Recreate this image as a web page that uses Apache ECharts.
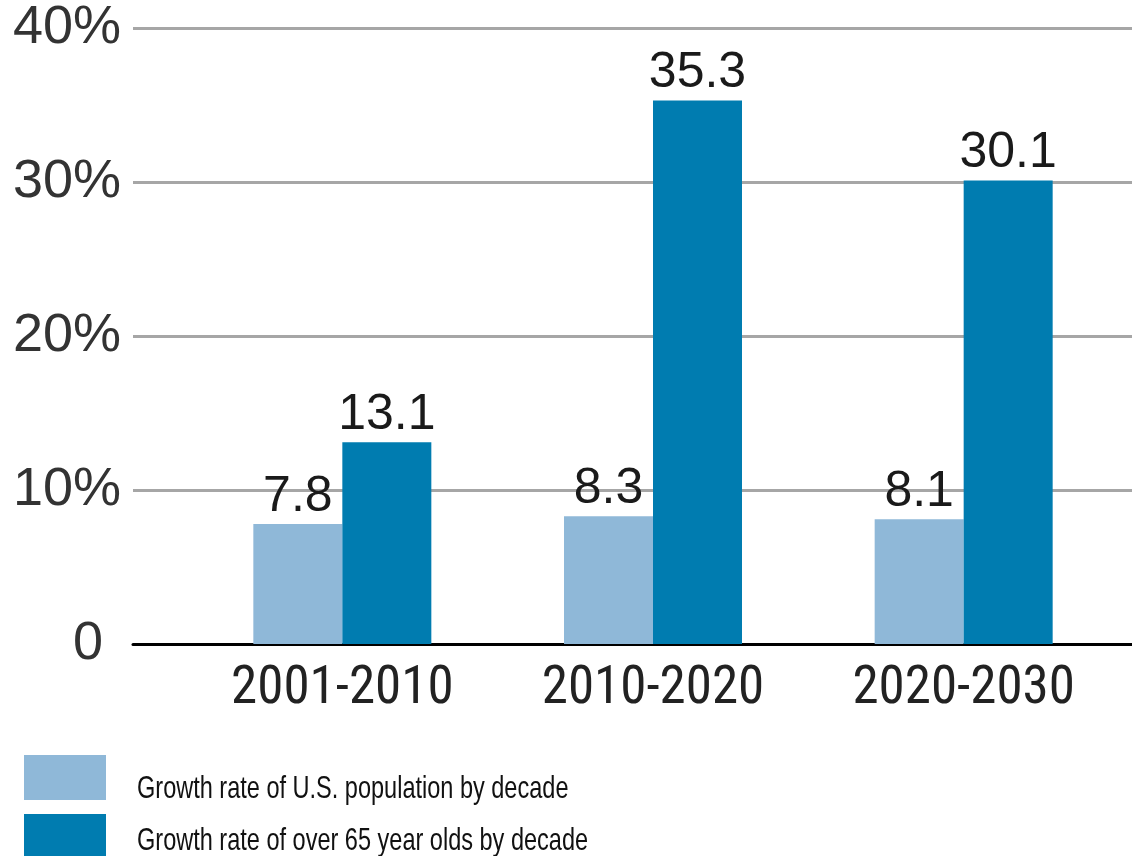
<!DOCTYPE html>
<html>
<head>
<meta charset="utf-8">
<script src="https://cdn.jsdelivr.net/npm/echarts@6/dist/echarts.min.js"></script>
<style>html,body{margin:0;padding:0;background:#fff}#c{width:1132px;height:856px}</style>
</head>
<body>
<div id="c"></div>
<script>
const categories = ['2001-2010', '2010-2020', '2020-2030'];
const usPopulation = [7.8, 8.3, 8.1];
const over65 = [13.1, 35.3, 30.1];
const seriesNames = ['Growth rate of U.S. population by decade', 'Growth rate of over 65 year olds by decade'];
const yTicks = [0, 10, 20, 30, 40];
const colors = ['#8fb8d8', '#007cb0'];

const chart = echarts.init(document.getElementById('c'), null, {renderer: 'canvas'});
const TOP = 28, BOTTOM = 212;
const legendTops = [750, 809];
const legendTextY = [789, 841];

chart.setOption({
  animation: false,
  backgroundColor: '#fff',
  grid: [
    {left: 133, right: 0, top: TOP, bottom: BOTTOM},
    {left: 187, right: 13, top: TOP, bottom: BOTTOM}
  ],
  xAxis: [
    {gridIndex: 0, type: 'value', min: 0, max: 1, show: true,
     axisLine: {show: true, onZero: false, lineStyle: {color: '#000', width: 3}},
     axisTick: {show: false}, axisLabel: {show: false}, splitLine: {show: false}},
    {gridIndex: 1, type: 'category', data: categories,
     axisLine: {show: false}, axisTick: {show: false},
     axisLabel: {interval: 0, margin: 19, fontFamily: "'Roboto Condensed', 'Liberation Sans'", fontSize: 53, color: '#222'}}
  ],
  yAxis: [
    {gridIndex: 0, type: 'value', min: yTicks[0], max: yTicks[yTicks.length - 1], interval: 10,
     axisLine: {show: false}, axisTick: {show: false},
     axisLabel: {margin: 12, fontFamily: 'Liberation Sans', fontSize: 54, color: '#333',
       formatter: v => v === 0 ? '{z|0}' : v + '%',
       rich: {z: {fontFamily: 'Liberation Sans', fontSize: 54, color: '#333', padding: [0, 18, 0, 0]}}},
     splitLine: {show: true, lineStyle: {color: '#a6a6a6', width: 3}}},
    {gridIndex: 1, type: 'value', min: 0, max: 40, show: false, splitLine: {show: false}}
  ],
  legend: seriesNames.map((n, i) => ({
    left: 19, top: legendTops[i], itemWidth: 82, itemHeight: 45, icon: 'rect',
    formatter: () => '', data: [n], selectedMode: false
  })),
  graphic: seriesNames.map((n, i) => ({
    type: 'text', x: 137, y: legendTextY[i], scaleX: 0.735,
    style: {text: n, fontFamily: 'Liberation Sans', fontSize: 32, fill: '#111', verticalAlign: 'middle', align: 'left'}
  })),
  series: [
    {name: seriesNames[0], type: 'bar', xAxisIndex: 1, yAxisIndex: 1, data: usPopulation,
     barWidth: 89, barGap: '0%', itemStyle: {color: colors[0]},
     label: {show: true, position: 'top', distance: 2, fontFamily: 'Liberation Sans', fontSize: 50, color: '#1a1a1a'}},
    {name: seriesNames[1], type: 'bar', xAxisIndex: 1, yAxisIndex: 1, data: over65,
     barWidth: 89, barGap: '0%', itemStyle: {color: colors[1]},
     label: {show: true, position: 'top', distance: 2, fontFamily: 'Liberation Sans', fontSize: 50, color: '#1a1a1a'}}
  ]
});
</script>
</body>
</html>
